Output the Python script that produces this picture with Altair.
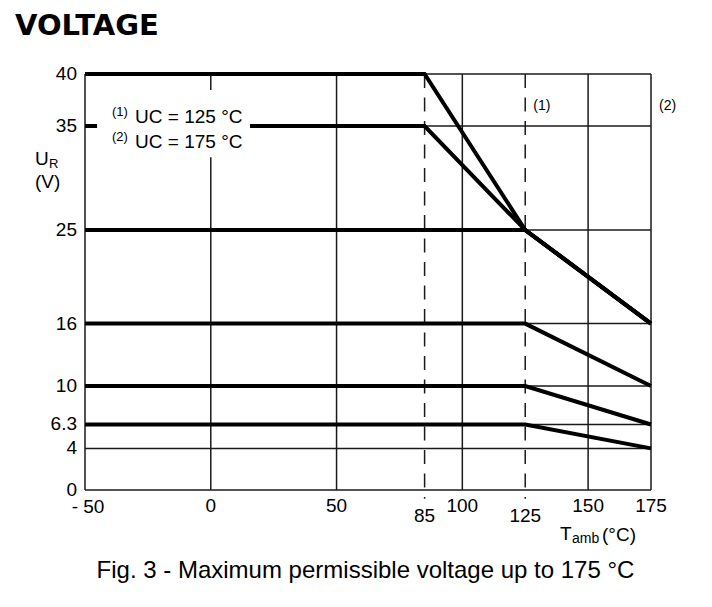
import altair as alt
import pandas as pd

# ---------------- data ----------------
series_names = ["40 V", "35 V", "25 V", "16 V", "10 V", "6.3 V"]
series_temp = [
    [-50, 85, 125, 175],
    [-50, 85, 125, 175],
    [-50, 125, 175],
    [-50, 125, 175],
    [-50, 125, 175],
    [-50, 125, 175],
]
series_volt = [
    [40, 40, 25, 16],
    [35, 35, 25, 16],
    [25, 25, 16],
    [16, 16, 10],
    [10, 10, 6.3],
    [6.3, 6.3, 4],
]

x_ticks = [-50, 0, 50, 100, 150, 175]
x_ticks_low = [85, 125]
y_ticks = [0, 4, 6.3, 10, 16, 25, 35, 40]
v_grid = [-50, 0, 50, 100, 150, 175]
v_dashed = [85, 125]
h_grid = [0, 4, 6.3, 10, 16, 25, 35, 40]
x_min, x_max = -50, 175
y_min, y_max = 0, 40

legend_marks = ["(1)", "(2)"]
legend_texts = ["UC = 125 °C", "UC = 175 °C"]
curve_marks = ["(1)", "(2)"]
curve_mark_temp = [125, 175]

FONT = "Liberation Sans"
INK = "#1a1a1a"
W, H = 566, 416
TICK_FS = 19

# ---------------- tables ----------------
rows = []
for name, xs, ys in zip(series_names, series_temp, series_volt):
    for i, (xv, yv) in enumerate(zip(xs, ys)):
        rows.append({"series": name, "idx": i, "T": xv, "U": yv})
lines_df = pd.DataFrame(rows)

xs_scale = alt.Scale(domain=[x_min, x_max], nice=False, zero=False)
ys_scale = alt.Scale(domain=[y_min, y_max], nice=False, zero=False)


def X(field):
    return alt.X(field, scale=xs_scale, axis=None)


def Y(field):
    return alt.Y(field, scale=ys_scale, axis=None)


# frame + vertical solid grid
vg = alt.Chart(pd.DataFrame({"T": v_grid, "y1": y_min, "y2": y_max})).mark_rule(
    color=INK, strokeWidth=1.5
).encode(x=X("T:Q"), y=Y("y1:Q"), y2="y2:Q")
# frame + horizontal grid
hg = alt.Chart(pd.DataFrame({"U": h_grid, "x1": x_min, "x2": x_max})).mark_rule(
    color=INK, strokeWidth=1.5
).encode(x=X("x1:Q"), x2="x2:Q", y=Y("U:Q"))
# dashed verticals (extend a little below the axis)
dg = alt.Chart(pd.DataFrame({"T": v_dashed, "y1": y_max, "y2": -0.85})).mark_rule(
    color=INK, strokeWidth=1.5, strokeDash=[14, 9.5]
).encode(x=X("T:Q"), y=Y("y1:Q"), y2="y2:Q")

# tick labels (placed through the scales)
pos_ticks = [v for v in x_ticks if v >= 0]
neg_ticks = [v for v in x_ticks if v < 0]
x_labels = alt.Chart(pd.DataFrame({"T": pos_ticks})).mark_text(
    font=FONT, fontSize=TICK_FS, align="center", baseline="top", color="black"
).encode(x=X("T:Q"), y=alt.value(H + 7), text=alt.Text("T:Q", format="d"))
x_labels_neg = alt.Chart(pd.DataFrame({"T": neg_ticks,
                                       "lab": [f"- {abs(v)}" for v in neg_ticks]})).mark_text(
    font=FONT, fontSize=TICK_FS, align="center", baseline="top", color="black", dx=3
).encode(x=X("T:Q"), y=alt.value(H + 8), text="lab:N")
x_labels_low = alt.Chart(pd.DataFrame({"T": x_ticks_low})).mark_text(
    font=FONT, fontSize=TICK_FS, align="center", baseline="top", color="black"
).encode(x=X("T:Q"), y=alt.value(H + 17), text=alt.Text("T:Q", format="d"))
y_labels = alt.Chart(pd.DataFrame({"U": y_ticks})).mark_text(
    font=FONT, fontSize=TICK_FS, align="right", baseline="middle", color="black"
).encode(x=alt.value(-8), y=Y("U:Q"), text=alt.Text("U:Q", format=".1~f"))

# thick derating curves
curves = alt.Chart(lines_df).mark_line(
    color="black", strokeWidth=4, strokeJoin="miter", strokeCap="butt"
).encode(x=X("T:Q"), y=Y("U:Q"), detail="series:N", order="idx:Q")

# white box behind the legend
box = alt.Chart(pd.DataFrame({"x1": [-45.2], "x2": [15.6], "y1": [32.0], "y2": [38.46]})).mark_rect(
    color="white"
).encode(x=X("x1:Q"), x2="x2:Q", y=Y("y1:Q"), y2="y2:Q")
leg_sup = alt.Chart(pd.DataFrame({"t": legend_marks, "x": [-39.3, -39.3], "y": [36.35, 33.9]})).mark_text(
    font=FONT, fontSize=13, align="left", baseline="middle", color="black"
).encode(x=X("x:Q"), y=Y("y:Q"), text="t:N")
leg_txt = alt.Chart(pd.DataFrame({"t": legend_texts, "x": [-30.1, -30.1], "y": [35.3, 32.9]})).mark_text(
    font=FONT, fontSize=19, align="left", baseline="alphabetic", color="black"
).encode(x=X("x:Q"), y=Y("y:Q"), text="t:N")
cm = alt.Chart(pd.DataFrame({"t": curve_marks, "x": [t + 3.2 for t in curve_mark_temp], "y": [36.9, 36.9]})).mark_text(
    font=FONT, fontSize=14, align="left", baseline="middle", color="black"
).encode(x=X("x:Q"), y=Y("y:Q"), text="t:N")


def ptext(txt, px, py, size, align="left", font=FONT, weight="normal"):
    return alt.Chart(pd.DataFrame({"t": [txt]})).mark_text(
        font=font, fontSize=size, fontWeight=weight, align=align,
        baseline="alphabetic", color="black"
    ).encode(x=alt.value(px), y=alt.value(py), text="t:N")


title = ptext("VOLTAGE", -70, -39, 29, font="DejaVu Sans", weight="bold")
caption = ptext("Fig. 3 - Maximum permissible voltage up to 175 °C", 280.5, 504, 24, align="center")
u_main = ptext("U", -50, 91, 19)
u_sub = ptext("R", -36, 94, 13)
u_unit = ptext("(V)", -50, 114, 19)
t_main = ptext("T", 475, 466, 19)
t_sub = ptext("amb", 487, 469, 14)
t_unit = ptext("(°C)", 517, 467, 19)

chart = alt.layer(
    vg, hg, dg, x_labels, x_labels_neg, x_labels_low, y_labels, curves, box,
    leg_sup, leg_txt, cm,
    title, caption, u_main, u_sub, u_unit, t_main, t_sub, t_unit,
).properties(
    width=W, height=H,
    autosize=alt.AutoSizeParams(type="none"),
    padding={"left": 77, "top": 66, "right": 40, "bottom": 98},
    background="white",
).configure_view(strokeWidth=0)

chart.save("out.html", embed_options={"renderer": "svg", "actions": False})
